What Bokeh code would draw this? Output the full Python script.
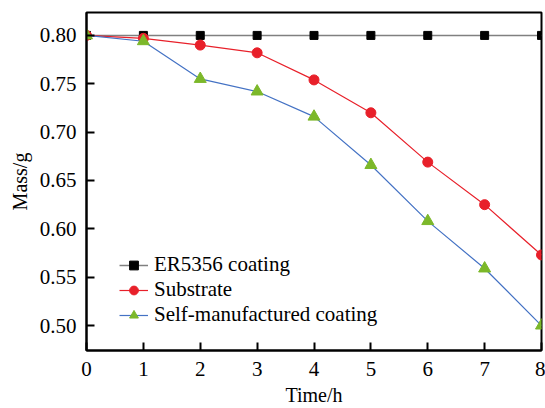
from bokeh.plotting import figure
from bokeh.models import Legend, LegendItem, FixedTicker, Range1d
from bokeh.embed import file_html
from bokeh.resources import INLINE

time_h = [0, 1, 2, 3, 4, 5, 6, 7, 8]
er5356 = [0.80, 0.80, 0.80, 0.80, 0.80, 0.80, 0.80, 0.80, 0.80]
substrate = [0.800, 0.797, 0.790, 0.782, 0.754, 0.720, 0.669, 0.625, 0.573]
self_made = [0.800, 0.794, 0.755, 0.742, 0.716, 0.666, 0.608, 0.559, 0.500]
y_ticks = [0.50, 0.55, 0.60, 0.65, 0.70, 0.75, 0.80]
y_tick_labels = ["0.50", "0.55", "0.60", "0.65", "0.70", "0.75", "0.80"]

FONT = "Liberation Serif"

p = figure(width=545, height=408, output_backend="svg", toolbar_location=None,
           x_range=Range1d(0, 8), y_range=Range1d(0.4742, 0.8237),
           min_border_left=86, min_border_right=4, min_border_top=12, min_border_bottom=57)
p.background_fill_color = "white"
p.border_fill_color = "white"
p.grid.visible = False
p.outline_line_color = "black"
p.outline_line_width = 2

l1 = p.line(time_h, er5356, line_color="#808080", line_width=1.5)
m1 = p.scatter(time_h, er5356, marker="square", size=8, fill_color="black", line_color="black")
l2 = p.line(time_h, substrate, line_color="#e8202a", line_width=1.2)
m2 = p.scatter(time_h, substrate, marker="circle", size=10, fill_color="#e8202a", line_color="#e8202a")
l3 = p.line(time_h, self_made, line_color="#4472c4", line_width=1.2)
m3 = p.scatter(time_h, self_made, marker="triangle", size=12, fill_color="#7cb82a", line_color="#7cb82a")

for ax in (p.xaxis[0], p.yaxis[0]):
    ax.axis_line_width = 2
    ax.major_tick_line_width = 2
    ax.major_tick_in = 8
    ax.major_tick_out = 0
    ax.minor_tick_in = 0
    ax.minor_tick_out = 0
    ax.major_label_text_font = FONT
    ax.major_label_text_font_size = "21px"
    ax.major_label_text_color = "black"
    ax.axis_label_text_font = FONT
    ax.axis_label_text_font_size = "20px"
    ax.axis_label_text_font_style = "normal"
    ax.axis_label_text_color = "black"

p.xaxis.ticker = FixedTicker(ticks=time_h)
p.yaxis.ticker = FixedTicker(ticks=y_ticks)
p.yaxis.major_label_overrides = {t: s for t, s in zip(y_ticks, y_tick_labels)}
p.xaxis.axis_label = "Time/h"
p.yaxis.axis_label = "Mass/g"
p.xaxis.major_label_standoff = 11
p.yaxis.major_label_standoff = 10
p.xaxis.axis_label_standoff = 5
p.yaxis.axis_label_standoff = 6

legend = Legend(items=[
    LegendItem(label="ER5356 coating", renderers=[l1, m1]),
    LegendItem(label="Substrate", renderers=[l2, m2]),
    LegendItem(label="Self-manufactured coating", renderers=[l3, m3]),
], location=(33, 23))
legend.border_line_color = None
legend.background_fill_alpha = 0
legend.padding = 0
legend.margin = 0
legend.spacing = 0
legend.glyph_width = 29
legend.glyph_height = 22
legend.label_height = 22
legend.label_standoff = 6
legend.label_text_font = FONT
legend.label_text_font_size = "21px"
legend.label_text_color = "black"
p.add_layout(legend)

open("out.html", "w").write(file_html(p, INLINE))
